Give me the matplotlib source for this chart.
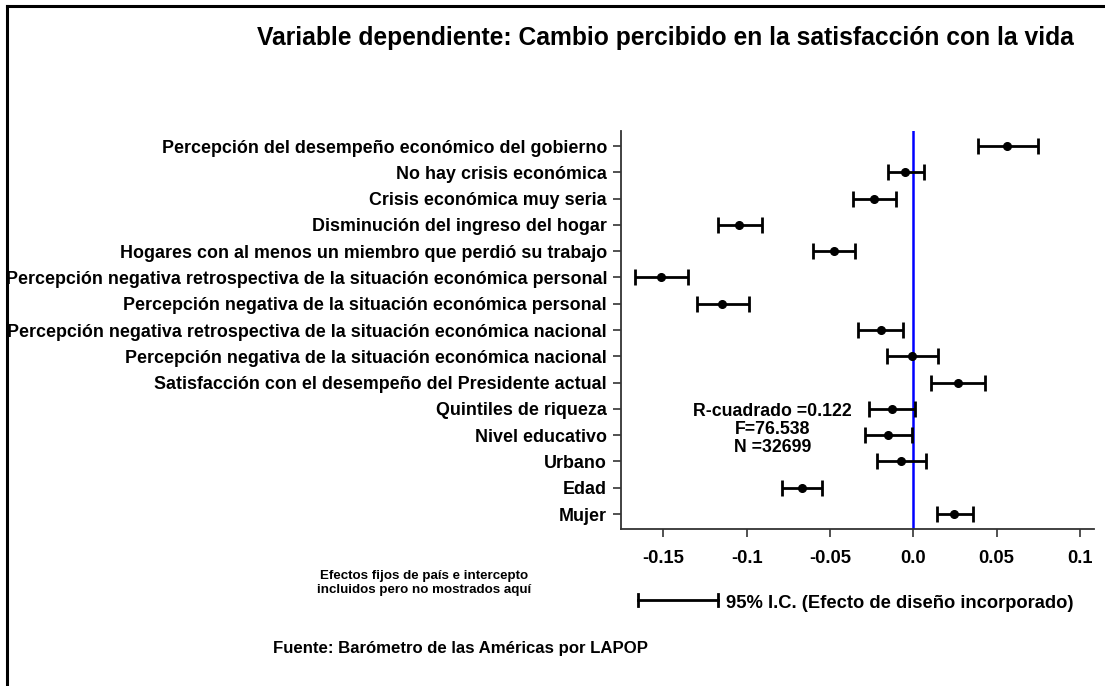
import numpy as np
import matplotlib
matplotlib.use('Agg')
import matplotlib.pyplot as plt
from matplotlib.lines import Line2D

plt.rcParams['font.family'] = ['Liberation Sans', 'DejaVu Sans']
plt.rcParams['font.weight'] = 'bold'

# variables, top to bottom
labels = [
    "Percepción del desempeño económico del gobierno",
    "No hay crisis económica",
    "Crisis económica muy seria",
    "Disminución del ingreso del hogar",
    "Hogares con al menos un miembro que perdió su trabajo",
    "Percepción negativa retrospectiva de la situación económica personal",
    "Percepción negativa de la situación económica personal",
    "Percepción negativa retrospectiva de la situación económica nacional",
    "Percepción negativa de la situación económica nacional",
    "Satisfacción con el desempeño del Presidente actual",
    "Quintiles de riqueza",
    "Nivel educativo",
    "Urbano",
    "Edad",
    "Mujer",
]
coef = [0.0564, -0.0048, -0.0234, -0.1044, -0.0474, -0.1512, -0.1146,
        -0.0196, -0.0010, 0.0266, -0.0130, -0.0150, -0.0072, -0.0668, 0.0246]
ci_low = [0.0386, -0.0154, -0.0360, -0.1174, -0.0600, -0.1672, -0.1300,
          -0.0334, -0.0156, 0.0104, -0.0264, -0.0290, -0.0218, -0.0790, 0.0144]
ci_high = [0.0746, 0.0064, -0.0102, -0.0910, -0.0350, -0.1350, -0.0986,
           -0.0060, 0.0148, 0.0430, 0.0008, -0.0006, 0.0076, -0.0550, 0.0356]
xticks = [-0.15, -0.1, -0.05, 0.0, 0.05, 0.1]
xticklabels = ["-0.15", "-0.1", "-0.05", "0.0", "0.05", "0.1"]

coef = np.array(coef)
err = [coef - np.array(ci_low), np.array(ci_high) - coef]
y = np.arange(len(labels), 0, -1)

fig = plt.figure(figsize=(11.05, 6.86), dpi=100)
ax = fig.add_axes([0.562, 0.2284, 0.428, 0.5806])

ax.axvline(0, color='#0000ff', lw=1.8, zorder=1)
ax.errorbar(coef, y, xerr=err, fmt='o', color='black', ms=5.5,
            ecolor='black', elinewidth=2, capsize=5.5, capthick=2, zorder=3)

ax.set_xlim(-0.1754, 0.1084)
ax.set_ylim(0.42, len(labels) + 0.57)
ax.set_yticks(y)
ax.set_yticklabels(labels, fontsize=12.9, fontweight='bold')
ax.set_xticks(xticks)
ax.set_xticklabels(xticklabels, fontsize=13.2, fontweight='bold')
ax.tick_params(axis='both', length=6, width=1.2, color='#333333', pad=4)
ax.tick_params(axis='x', pad=9)
for s in ['top', 'right']:
    ax.spines[s].set_visible(False)
for s in ['left', 'bottom']:
    ax.spines[s].set_linewidth(1.3)
    ax.spines[s].set_color('#333333')

ax.text(-0.0845, 4.23, "R-cuadrado =0.122\nF=76.538\nN =32699",
        ha='center', va='center', fontsize=12.8, fontweight='bold',
        linespacing=1.08)

fig.text(0.602, 0.945, "Variable dependiente: Cambio percibido en la satisfacción con la vida",
         ha='center', va='center', fontsize=17.7, fontweight='bold')

fig.text(0.3835, 1 - 583 / 686, "Efectos fijos de país e intercepto\nincluidos pero no mostrados aquí",
         ha='center', va='center', fontsize=9.6, fontweight='bold', linespacing=1.15)

# legend for the interval bars
lx0, lx1, ly = 638 / 1105, 718 / 1105, 1 - 600 / 686
fig.add_artist(Line2D([lx0, lx1], [ly, ly], color='black', lw=2))
for lx in (lx0, lx1):
    fig.add_artist(Line2D([lx, lx], [ly - 0.009, ly + 0.009], color='black', lw=2))
fig.text(726 / 1105, 1 - 603 / 686, "95% I.C. (Efecto de diseño incorporado)",
         ha='left', va='center', fontsize=13.2, fontweight='bold')

fig.text(273 / 1105, 1 - 649 / 686, "Fuente: Barómetro de las Américas por LAPOP",
         ha='left', va='center', fontsize=12.1, fontweight='bold')

# frame around the figure (left and top edges)
fig.add_artist(Line2D([7 / 1105, 7 / 1105], [0, 1 - 6 / 686], color='black', lw=2.2))
fig.add_artist(Line2D([7 / 1105, 1], [1 - 6 / 686, 1 - 6 / 686], color='black', lw=2.2))

fig.savefig('out.png', dpi=100)
